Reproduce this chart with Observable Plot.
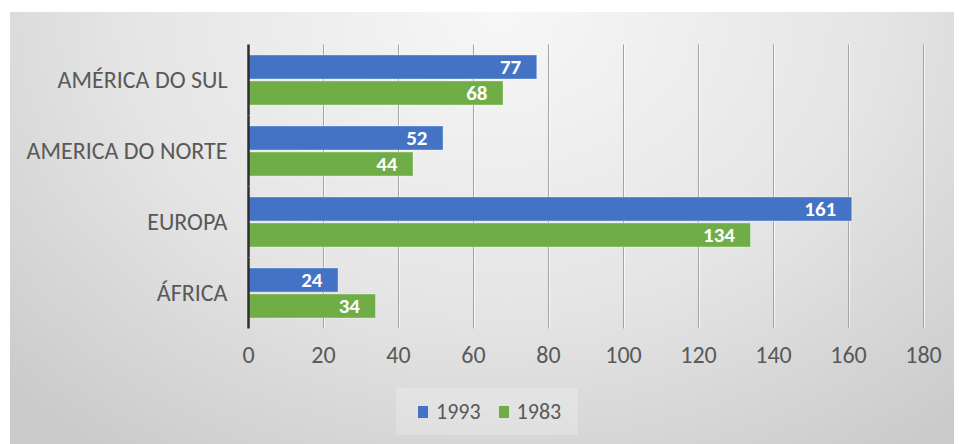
<!DOCTYPE html>
<html>
<head>
<meta charset="utf-8">
<script src="https://cdn.jsdelivr.net/npm/d3@7"></script>
<script src="https://cdn.jsdelivr.net/npm/@observablehq/plot@0.6"></script>
<style>
  html, body { margin: 0; padding: 0; background: #ffffff; width: 959px; height: 444px; overflow: hidden; }
  #frame {
    position: absolute; left: 10px; top: 12px; width: 944px; height: 432px;
    background: radial-gradient(ellipse 72% 125% at 52% 0%, #f7f7f7 0%, #e5e5e5 55%, #cbcbcb 100%);
  }
  #chart { position: absolute; left: 0; top: 0; }
  #legend {
    position: absolute; left: 386px; top: 376px; width: 182px; height: 47px;
    background: rgba(255,255,255,0.22);
    font-family: Calibri, Carlito, Lato, sans-serif; font-size: 22px; color: #595959;
    display: flex; align-items: center; justify-content: flex-start; box-sizing: border-box; padding-left: 22px; gap: 18px;
  }
  .item { display: flex; align-items: center; gap: 8px; }
  .sw { width: 10px; height: 12px; display: inline-block; }
</style>
</head>
<body>
<div id="frame">
  <div id="chart"></div>
  <div id="legend"></div>
</div>
<script>
const categories = ["AMÉRICA DO SUL", "AMERICA DO NORTE", "EUROPA", "ÁFRICA"];
const series = ["1993", "1983"];
const values1993 = [77, 52, 161, 24];
const values1983 = [68, 44, 134, 34];
const xTicks = [0, 20, 40, 60, 80, 100, 120, 140, 160, 180];
const colors = ["#4472C4", "#70AD47"];

const data = categories.flatMap((c, i) => [
  {category: c, series: series[0], value: values1993[i]},
  {category: c, series: series[1], value: values1983[i]}
]);

const font = "Calibri, Carlito, Lato, sans-serif";

const chart = Plot.plot({
  width: 944,
  height: 365,
  marginLeft: 238,
  marginRight: 31,
  marginTop: 32,
  marginBottom: 48,
  style: {background: "transparent", fontFamily: font, fontSize: "24px", color: "#595959", overflow: "visible"},
  x: {domain: [0, 180], ticks: xTicks, tickSize: 0, tickPadding: 26, label: null},
  y: {domain: series, axis: null, paddingInner: 0.06, paddingOuter: 0},
  fy: {domain: categories, axis: "left", label: null, tickSize: 0, tickPadding: 21, paddingInner: 0.27, paddingOuter: 0.14},
  color: {domain: series, range: colors},
  marks: [
    Plot.ruleX(xTicks.slice(1), {stroke: "#ffffff", strokeOpacity: 0.7, dx: 1, insetTop: -9.5, insetBottom: -9.5}),
    Plot.ruleX(xTicks.slice(1), {stroke: "#a3a3a3", insetTop: -9.5, insetBottom: -9.5}),
    Plot.barX(data, {x: "value", y: "series", fy: "category", fill: "series", stroke: "#ffffff", strokeOpacity: 0.35, strokeWidth: 1}),
    Plot.text(data, {x: "value", y: "series", fy: "category", text: d => String(d.value), textAnchor: "end", dx: -16, fill: "white", fontWeight: "bold", fontSize: 21}),
    Plot.ruleX([0], {stroke: "#2f2f2f", strokeWidth: 2.5, insetTop: -9.5, insetBottom: -9.5})
  ]
});
document.getElementById("chart").appendChild(chart);

const legend = document.getElementById("legend");
series.forEach((s, i) => {
  const item = document.createElement("span");
  item.className = "item";
  const sw = document.createElement("span");
  sw.className = "sw";
  sw.style.background = colors[i];
  const t = document.createElement("span");
  t.textContent = s;
  item.appendChild(sw);
  item.appendChild(t);
  legend.appendChild(item);
});
</script>
</body>
</html>
